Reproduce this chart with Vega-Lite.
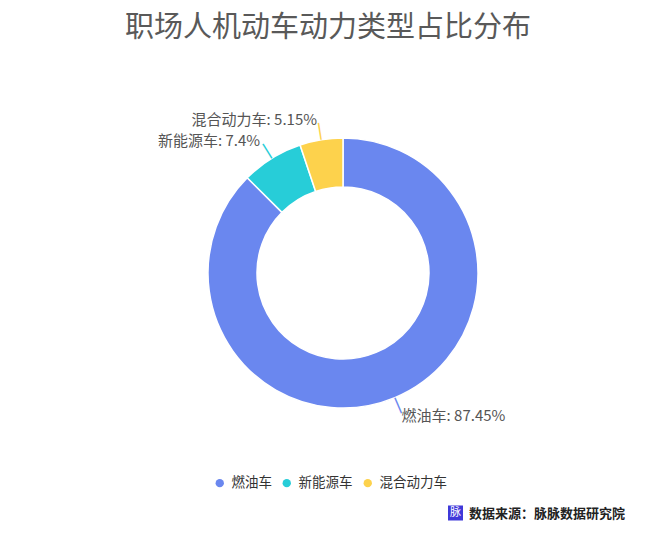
{
  "$schema": "https://vega.github.io/schema/vega-lite/v6.json",
  "autosize": "none",
  "width": 600,
  "height": 400,
  "padding": {"left": 43, "top": 73, "right": 17, "bottom": 61},
  "background": "white",
  "title": {
    "text": "职场人机动车动力类型占比分布",
    "font": "Noto Sans CJK SC",
    "fontSize": 29,
    "fontWeight": "normal",
    "color": "#595959",
    "anchor": "middle",
    "frame": "group",
    "dx": -15,
    "offset": 30
  },
  "config": {"view": {"stroke": null}},
  "datasets": {
    "main": [
      {"type": "燃油车", "value": 87.45},
      {"type": "新能源车", "value": 7.4},
      {"type": "混合动力车", "value": 5.15}
    ],
    "note": [{"src": "数据来源：脉脉数据研究院", "icon": "脉"}]
  },
  "layer": [
    {
      "data": {"name": "main"},
      "mark": {"type": "arc", "radius": 135, "radius2": 86, "stroke": "white", "strokeWidth": 1.5},
      "encoding": {
        "theta": {"field": "value", "type": "quantitative", "stack": true},
        "order": {"field": "value", "sort": "descending"},
        "color": {
          "field": "type",
          "type": "nominal",
          "sort": ["燃油车", "新能源车", "混合动力车"],
          "scale": {"domain": ["燃油车", "新能源车", "混合动力车"], "range": ["#6a87ef", "#27cdd8", "#fdd24c"]},
          "legend": {
            "orient": "none",
            "direction": "horizontal",
            "legendX": 170,
            "legendY": 403,
            "title": null,
            "padding": 0,
            "symbolType": "circle",
            "symbolSize": 70,
            "symbolStrokeWidth": 0,
            "labelFontSize": 13.5,
            "labelColor": "#333333",
            "labelFont": "Noto Sans CJK SC",
            "labelOffset": 5,
            "columnPadding": 8
          }
        }
      }
    },
    {
      "data": {"name": "main"},
      "mark": {"type": "text", "radius": 144, "font": "DejaVu Sans", "fontSize": 17, "baseline": "middle", "align": "center"},
      "encoding": {
        "theta": {"field": "value", "type": "quantitative", "stack": true},
        "order": {"field": "value", "sort": "descending"},
        "color": {"field": "type", "type": "nominal", "legend": null},
        "text": {"value": "|"},
        "angle": {
          "condition": [
            {"test": "datum.type === '燃油车'", "value": 157},
            {"test": "datum.type === '新能源车'", "value": 328}
          ],
          "value": 351
        }
      }
    },
    {
      "data": {"name": "main"},
      "transform": [{"calculate": "datum.type + ': ' + datum.value + '%'", "as": "label"}],
      "mark": {"type": "text", "radius": 155, "font": "Noto Sans CJK SC", "fontSize": 15, "color": "#555555", "baseline": "middle", "align": "left", "dx": -1},
      "encoding": {
        "theta": {"field": "value", "type": "quantitative", "stack": true},
        "order": {"field": "value", "sort": "descending"},
        "text": {"condition": {"test": "datum.type === '燃油车'", "field": "label"}, "value": ""}
      }
    },
    {
      "data": {"name": "main"},
      "transform": [{"calculate": "datum.type + ': ' + datum.value + '%'", "as": "label"}],
      "mark": {"type": "text", "radius": 155, "font": "Noto Sans CJK SC", "fontSize": 15, "color": "#555555", "baseline": "middle", "align": "right", "dx": -1},
      "encoding": {
        "theta": {"field": "value", "type": "quantitative", "stack": true},
        "order": {"field": "value", "sort": "descending"},
        "text": {"condition": {"test": "datum.type !== '燃油车'", "field": "label"}, "value": ""}
      }
    },
    {
      "data": {"name": "note"},
      "mark": {"type": "point", "shape": "square", "size": 225, "filled": true, "color": "#3f39d9", "opacity": 1},
      "encoding": {"x": {"value": 412.5}, "y": {"value": 440}}
    },
    {
      "data": {"name": "note"},
      "mark": {"type": "text", "font": "Noto Sans CJK SC", "fontSize": 11, "color": "white", "align": "center", "baseline": "middle"},
      "encoding": {"x": {"value": 412.5}, "y": {"value": 440}, "text": {"field": "icon"}}
    },
    {
      "data": {"name": "note"},
      "mark": {"type": "text", "font": "Noto Sans CJK SC", "fontSize": 13, "fontWeight": "bold", "color": "#222222", "align": "left", "baseline": "middle"},
      "encoding": {"x": {"value": 426}, "y": {"value": 440.5}, "text": {"field": "src"}}
    }
  ]
}
